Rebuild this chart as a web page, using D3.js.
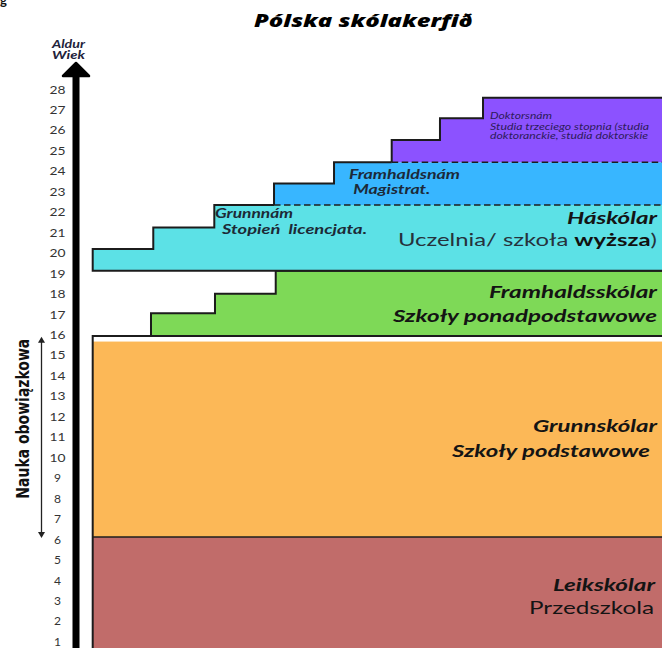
<!DOCTYPE html>
<html><head><meta charset="utf-8">
<script src="https://cdn.jsdelivr.net/npm/d3@7"></script>
<style>body{margin:0;background:#fff}svg{display:block}</style>
</head><body><svg id="c" width="662" height="648"></svg>
<script>
// ---------- data ----------
const ageTicks = [1,2,3,4,5,6,7,8,9,10,11,12,13,14,15,16,17,18,19,20,21,22,23,24,25,26,27,28];
// age ranges (start, end) of the full-width bands
const preschoolAges = [-1, 6.12];
const primaryAges = [6.12, 15.67];
const compulsoryAges = [6.07, 15.9];
const primaryBoxTop = 15.94;
// stair profiles: [stage position (0-100), top age]
const secondaryBase = 15.94;
const secondarySteps = [[10.24, 17.05], [21.48, 18.01], [32.15, 19.13]];
const bachelorBase = 19.13;
const bachelorSteps = [[0, 20.19], [10.64, 21.25], [21.36, 22.35]];
const masterBase = 22.35;
const masterSteps = [[31.85, 23.40], [42.39, 24.44]];
const doctorBase = 24.44;
const doctorSteps = [[52.52, 25.52], [61.0, 26.59], [68.56, 27.59]];
const stageEnd = 105;

const levelNamesIs = ["Leikskólar", "Grunnskólar", "Framhaldsskólar", "Háskólar"];
const levelNamesPl = ["Przedszkola", "Szkoły podstawowe", "Szkoły ponadpodstawowe"];
const degreeNamesIs = ["Grunnnám", "Framhaldsnám", "Doktorsnám"];
const degreeNamesPl = ["Stopień\u00a0 licencjata.", "Magistrat.", "Studia trzeciego stopnia (studia", "doktoranckie, studia doktorskie"];

// ---------- drawing ----------
const svg = d3.select("#c");
const x = d3.scaleLinear().domain([0, 100]).range([92.7, 662]);
const y = d3.scaleLinear().domain([1, 28]).range([641.7, 89.3]);
const line = d3.line().x(d => x(d[0])).y(d => y(d[1]));

function stair(base, steps, endX) {
  const pts = [[steps[0][0], base]];
  steps.forEach((s, i) => {
    pts.push([s[0], s[1]]);
    const nx = i < steps.length - 1 ? steps[i + 1][0] : endX;
    pts.push([nx, s[1]]);
  });
  pts.push([endX, base]);
  return pts;
}

const STROKE = "#1c1c1c";

// stray glyph at top-left (cut off, as in the source image)
svg.append("text").attr("x", 0).attr("y", 5).attr("font-family", "Lato").attr("font-weight", 700)
  .attr("font-size", 13).attr("fill", "#111").text("g");

// bands
svg.append("rect").attr("x", x(0)).attr("width", x(stageEnd) - x(0))
  .attr("y", y(preschoolAges[1])).attr("height", y(preschoolAges[0]) - y(preschoolAges[1]))
  .attr("fill", "#c16c6a");
svg.append("rect").attr("x", x(0)).attr("width", x(stageEnd) - x(0))
  .attr("y", y(primaryAges[1])).attr("height", y(primaryAges[0]) - y(primaryAges[1]))
  .attr("fill", "#fcb857");
// box lines
svg.append("path").attr("d", line([[0, preschoolAges[0]], [0, primaryBoxTop], [stageEnd, primaryBoxTop]]))
  .attr("fill", "none").attr("stroke", STROKE).attr("stroke-width", 2);
svg.append("path").attr("d", line([[0, primaryAges[0]], [stageEnd, primaryAges[0]]]))
  .attr("fill", "none").attr("stroke", STROKE).attr("stroke-width", 1.5);

// secondary (green)
svg.append("path").attr("d", line(stair(secondaryBase, secondarySteps, stageEnd)) + "Z")
  .attr("fill", "#7ed957").attr("stroke", STROKE).attr("stroke-width", 2);

// fills of higher education
svg.append("path").attr("d", line(stair(bachelorBase, bachelorSteps, stageEnd)) + "Z").attr("fill", "#5ce1e6");
svg.append("path").attr("d", line(stair(masterBase, masterSteps, stageEnd)) + "Z").attr("fill", "#38b6ff");
svg.append("path").attr("d", line(stair(doctorBase, doctorSteps, stageEnd)) + "Z").attr("fill", "#8c52ff");

// outlines
const bachOutline = [[stageEnd, bachelorBase]].concat(stair(bachelorBase, bachelorSteps, masterSteps[0][0]).slice(0, -1));
const mastOutline = stair(masterBase, masterSteps, doctorSteps[0][0]).slice(0, -1);
const docOutline = stair(doctorBase, doctorSteps, stageEnd).slice(0, -1);
[bachOutline, mastOutline, docOutline].forEach(p => {
  svg.append("path").attr("d", line(p)).attr("fill", "none").attr("stroke", STROKE)
    .attr("stroke-width", 2).attr("stroke-linejoin", "miter");
});
// dashed dividers
[[[masterSteps[0][0], masterBase], [stageEnd, masterBase]], [[doctorSteps[0][0], doctorBase], [stageEnd, doctorBase]]].forEach(p => {
  svg.append("path").attr("d", line(p)).attr("fill", "none").attr("stroke", STROKE)
    .attr("stroke-width", 1.5).attr("stroke-dasharray", "6.5,3.5");
});

// axis arrow
const axX = 76;
svg.append("line").attr("x1", axX).attr("x2", axX).attr("y1", 72).attr("y2", 660)
  .attr("stroke", "#000").attr("stroke-width", 7);
svg.append("path").attr("d", `M${axX},63 L${axX + 13},76 L${axX - 13},76 Z`)
  .attr("fill", "#000").attr("stroke", "#000").attr("stroke-width", 2.5).attr("stroke-linejoin", "round");

// tick labels
svg.append("g").selectAll("text").data(ageTicks).join("text")
  .attr("x", 57.5).attr("y", d => y(d) + 4.2).attr("text-anchor", "middle")
  .attr("font-family", "Lato").attr("font-size", 11.5).attr("fill", "#333")
  .attr("textLength", d => String(d).length > 1 ? 16 : 7).attr("lengthAdjust", "spacingAndGlyphs")
  .text(d => d);

// axis title
const axTitle = ["Aldur", "Wiek"];
svg.append("g").selectAll("text").data(axTitle).join("text")
  .attr("x", 68.5).attr("y", (d, i) => 48.3 + i * 11).attr("text-anchor", "middle")
  .attr("font-family", "Lato").attr("font-weight", 700).attr("font-style", "italic")
  .attr("font-size", 10.5).attr("fill", "#22223a")
  .attr("textLength", 33).attr("lengthAdjust", "spacingAndGlyphs").text(d => d);

// chart title
svg.append("text").attr("x", 363).attr("y", 26.5).attr("text-anchor", "middle")
  .attr("font-family", "Open Sans").attr("font-weight", 800).attr("font-style", "italic")
  .attr("font-size", 18).attr("fill", "#000")
  .attr("textLength", 218).attr("lengthAdjust", "spacingAndGlyphs").text("Pólska skólakerfið");

// compulsory education arrow
const cx = 41.5;
svg.append("line").attr("x1", cx).attr("x2", cx).attr("y1", y(compulsoryAges[1]) + 3).attr("y2", y(compulsoryAges[0]) - 3)
  .attr("stroke", "#222").attr("stroke-width", 1.3);
svg.append("path").attr("d", `M${cx},${y(compulsoryAges[1])} l-3.5,6 l7,0 Z`).attr("fill", "#222");
svg.append("path").attr("d", `M${cx},${y(compulsoryAges[0])} l-3.5,-6 l7,0 Z`).attr("fill", "#222");
svg.append("text").attr("transform", `translate(28.5,${y(11.9)}) rotate(-90)`)
  .attr("text-anchor", "middle")
  .attr("font-family", "'Liberation Sans Narrow', 'DejaVu Sans Condensed', sans-serif")
  .attr("font-stretch", "condensed").attr("font-weight", 700).attr("font-size", 18.5).attr("fill", "#111")
  .attr("textLength", 160).attr("lengthAdjust", "spacingAndGlyphs").text("Nauka obowiązkowa");

// level labels (right aligned)
const RX = x(99.12);
function label(txt, age, w, opts) {
  const t = svg.append("text").attr("x", RX).attr("y", y(age)).attr("text-anchor", "end")
    .attr("font-family", "Lato").attr("font-size", 17).attr("fill", "#141414")
    .attr("font-weight", opts.bold ? 700 : 400).attr("font-style", opts.italic ? "italic" : "normal")
    .attr("textLength", w).attr("lengthAdjust", "spacingAndGlyphs");
  return t.text(txt);
}
label(levelNamesIs[3], 21.42, 90, {bold: true, italic: true});
const uc = svg.append("text").attr("x", RX).attr("y", y(20.36)).attr("text-anchor", "end")
  .attr("font-family", "Lato").attr("font-size", 17).attr("fill", "#26323c")
  .attr("textLength", 259).attr("lengthAdjust", "spacingAndGlyphs");
uc.append("tspan").text("Uczelnia/ szkoła ");
uc.append("tspan").attr("font-weight", 700).attr("fill", "#111").text("wyższa");
uc.append("tspan").text(")");
label(levelNamesIs[2], 17.78, 168, {bold: true, italic: true});
label(levelNamesPl[2], 16.64, 264, {bold: true, italic: true});
label(levelNamesIs[1], 11.26, 124, {bold: true, italic: true});
label(levelNamesPl[1], 10.04, 198, {bold: true, italic: true}).attr("x", RX - 7);
label(levelNamesIs[0], 3.49, 102, {bold: true, italic: true}).attr("x", RX - 2);
label(levelNamesPl[0], 2.35, 125, {}).attr("x", RX - 3);

// degree labels
function small(txt, u, age, size, w, col) {
  return svg.append("text").attr("x", x(u)).attr("y", y(age))
    .attr("font-family", "Lato").attr("font-weight", 700).attr("font-style", "italic")
    .attr("font-size", size).attr("fill", col)
    .attr("textLength", w).attr("lengthAdjust", "spacingAndGlyphs").text(txt);
}
small(degreeNamesIs[0], 21.48, 21.69, 12.5, 78, "#1c2a36");
small(degreeNamesPl[0], 22.72, 20.93, 12.5, 145, "#1c2a36");
small(degreeNamesIs[1], 45.02, 23.62, 12.5, 111, "#1c2a3a");
small(degreeNamesPl[1], 45.77, 22.87, 12.5, 77, "#1c2a3a");
small(degreeNamesIs[2], 69.8, 26.55, 8.8, 62, "#2d1b5a").attr("font-weight", 400);
small(degreeNamesPl[2], 69.8, 26.03, 8.8, 159, "#2d1b5a").attr("font-weight", 400);
small(degreeNamesPl[3], 69.8, 25.57, 8.8, 158, "#2d1b5a").attr("font-weight", 400);
</script></body></html>
